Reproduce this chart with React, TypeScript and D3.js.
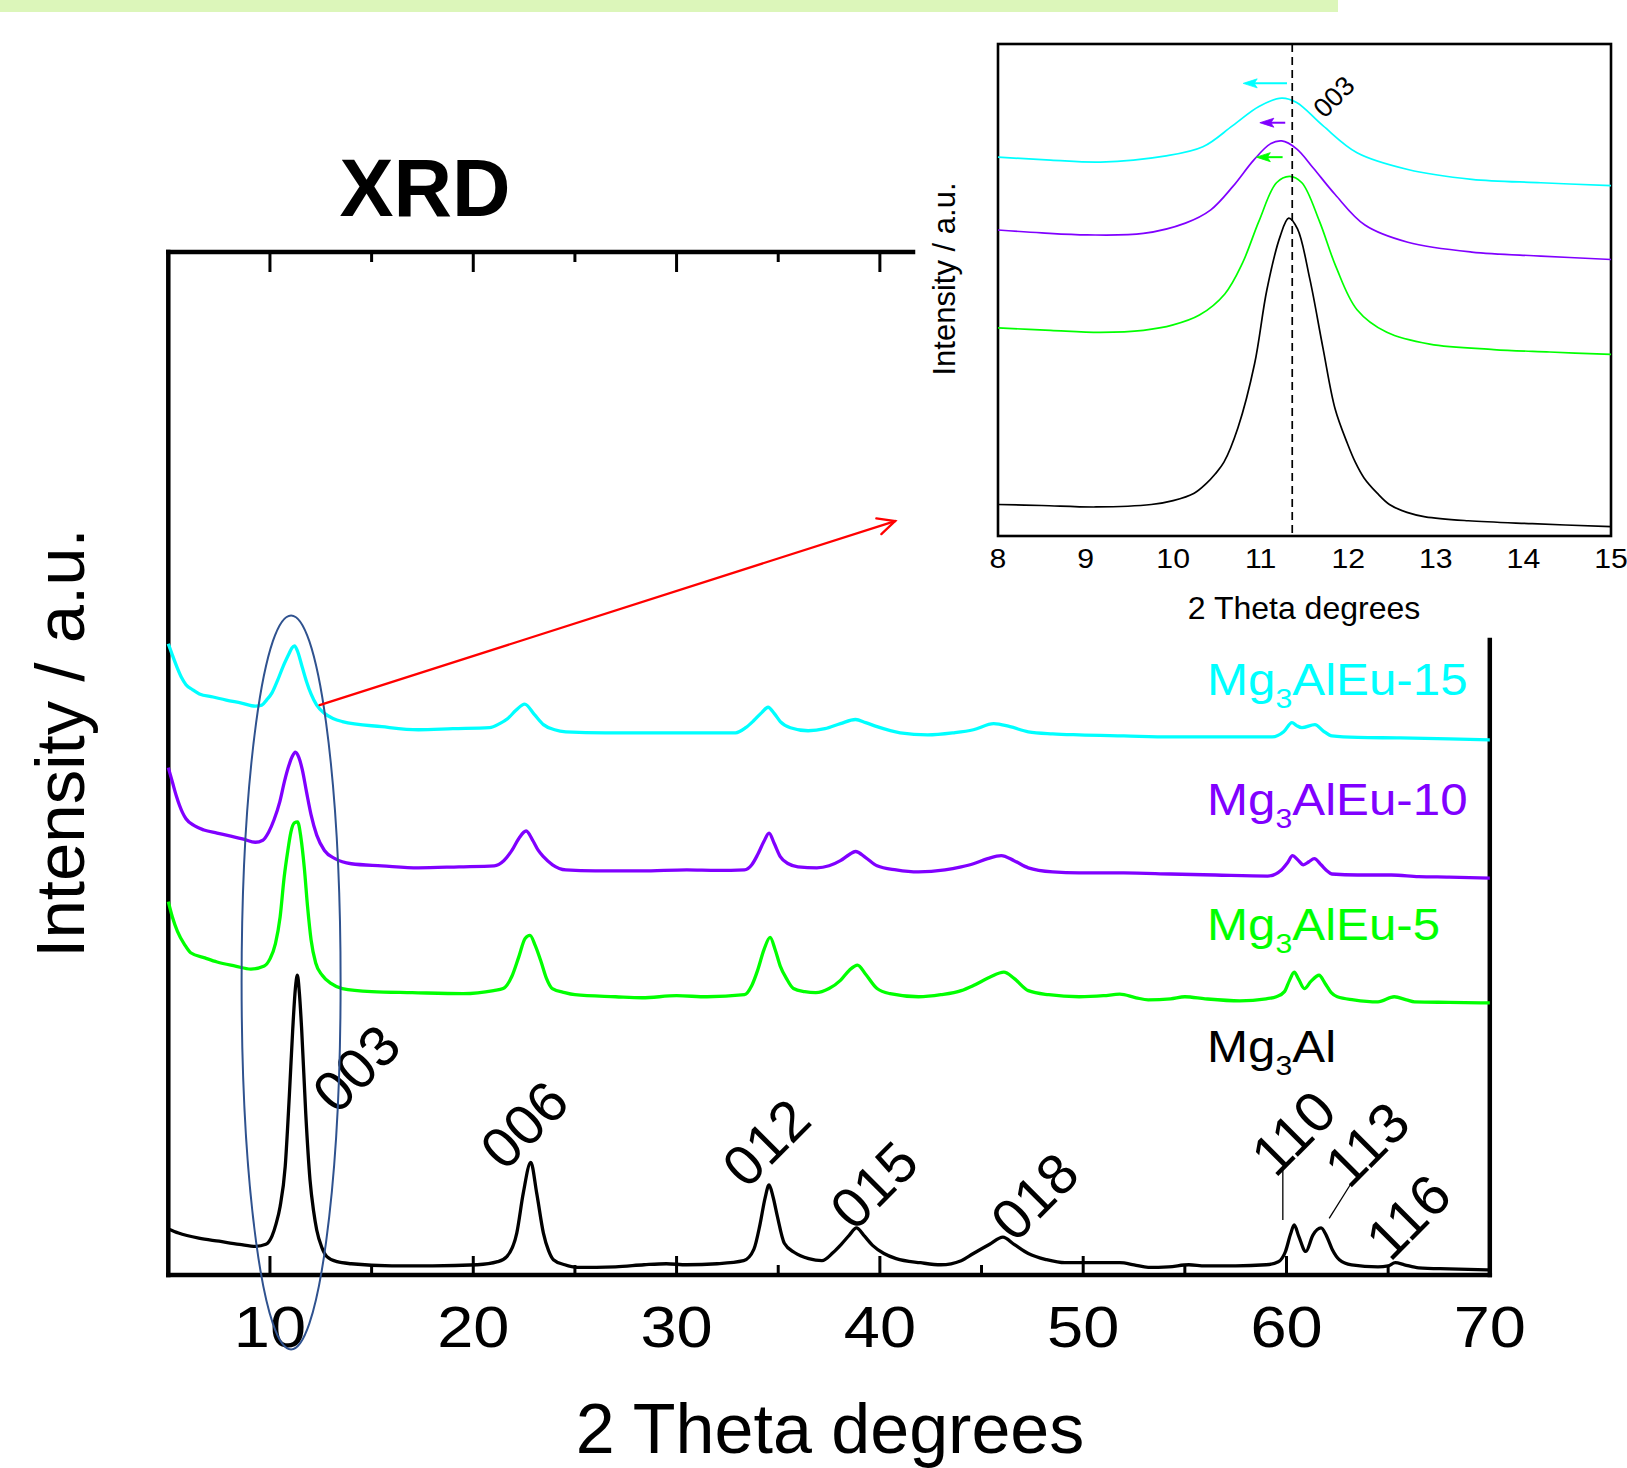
import React from "react";
import * as d3 from "d3";

// main pattern, [2theta, intensity offset]
const mg3al: [number, number][] = [
  [5.0, 4.5], [5.5, 4.1], [6.5, 3.6], [7.5, 3.3], [8.5, 3.0], [9.3, 2.8], [9.8, 3.0], [10.1, 3.8],
  [10.3, 5.0], [10.5, 6.7], [10.75, 10.6], [10.95, 17.4], [11.12, 24], [11.25, 28], [11.35, 29.3],
  [11.45, 27.5], [11.56, 24], [11.76, 15.8], [11.97, 9.3], [12.15, 6.2], [12.3, 4.4], [12.55, 2.7],
  [12.8, 1.8], [13.3, 1.3], [14, 1.1], [16, 0.9], [18, 0.9], [20.2, 1.0], [21.2, 1.3], [21.65, 1.8],
  [22.14, 4.1], [22.46, 8.0], [22.83, 11.0], [23.12, 8.0], [23.45, 4.1], [23.7, 2.4], [23.94, 1.5],
  [24.5, 1.0], [25.1, 0.75], [27, 0.8], [28.4, 1.0], [29.5, 1.1], [30.5, 1.0], [32, 1.1], [33.3, 1.4],
  [33.8, 2.5], [34.1, 4.9], [34.35, 7.5], [34.55, 8.8], [34.75, 7.6], [34.95, 5.8], [35.3, 3.1],
  [35.8, 2.2], [36.5, 1.6], [37.15, 1.4], [37.7, 2.2], [38.1, 3.0], [38.5, 3.9], [38.85, 4.6],
  [39.2, 3.9], [39.64, 2.9], [40.2, 2.1], [40.8, 1.6], [42, 1.2], [43.0, 1.0], [44.0, 1.4], [44.6, 2.1],
  [45.4, 3.0], [46.05, 3.7], [46.6, 3.0], [47.3, 2.1], [48.2, 1.5], [49.1, 1.2], [50.5, 1.2], [51.8, 1.2],
  [52.5, 1.0], [53.2, 0.75], [54.2, 0.8], [55.2, 1.0], [56.0, 0.9], [57.5, 0.9], [59.0, 1.0], [59.6, 1.3],
  [59.95, 2.3], [60.2, 4.0], [60.38, 4.9], [60.6, 3.8], [60.95, 2.3], [61.3, 3.9], [61.7, 4.6],
  [61.95, 3.9], [62.25, 2.5], [62.6, 1.5], [63.2, 1.0], [64.5, 0.8], [65.0, 0.9], [65.35, 1.2],
  [65.8, 1.0], [66.5, 0.7], [68, 0.6], [70, 0.5],
];

const eu5: [number, number][] = [
  [5.0, 36.5], [5.2, 35], [5.45, 33.6], [5.8, 32.3], [6.1, 31.5], [6.8, 31], [7.4, 30.6], [8.3, 30.2],
  [9.06, 29.9], [9.72, 30.2], [10.0, 30.9], [10.27, 32.4], [10.5, 35.0], [10.7, 38.9], [10.88, 41.5],
  [11.03, 43.3], [11.2, 44.2], [11.36, 44.3], [11.52, 42.8], [11.69, 39.8], [11.85, 36.0], [12.02, 32.8],
  [12.25, 30.5], [12.57, 29.3], [13.0, 28.5], [13.56, 28.0], [15, 27.7], [17, 27.6], [19.5, 27.5],
  [21.0, 27.8], [21.47, 28.0], [21.9, 29.2], [22.24, 31.1], [22.55, 32.9], [22.79, 33.2], [23.05, 32.2],
  [23.34, 30.6], [23.6, 29.0], [23.89, 28.0], [24.5, 27.6], [25, 27.4], [27, 27.2], [28.3, 27.1],
  [30, 27.3], [31.5, 27.2], [33.34, 27.4], [33.7, 28.3], [33.99, 29.8], [34.3, 31.8], [34.6, 33.0],
  [34.85, 31.8], [35.1, 30.2], [35.4, 29.0], [35.75, 28.0], [36.3, 27.7], [36.85, 27.6], [37.5, 28.0],
  [38.06, 28.8], [38.5, 29.8], [38.9, 30.3], [39.3, 29.4], [39.86, 28.0], [40.5, 27.5], [41.9, 27.2],
  [43, 27.4], [44, 27.8], [44.6, 28.3], [45.4, 29.1], [46.1, 29.6], [46.6, 29.0], [47.3, 27.8],
  [48.3, 27.4], [49.8, 27.2], [51, 27.3], [51.8, 27.45], [52.6, 27.1], [53.2, 26.9], [54.3, 27.0],
  [55.0, 27.2], [56, 27.0], [57.7, 26.8], [59.0, 27.0], [59.5, 27.2], [59.9, 27.7], [60.15, 28.8],
  [60.38, 29.6], [60.6, 28.9], [60.88, 28.0], [61.2, 28.7], [61.6, 29.3], [61.9, 28.5], [62.2, 27.6],
  [62.5, 27.2], [63.3, 26.9], [64.5, 26.7], [65.3, 27.2], [65.9, 26.9], [66.3, 26.7], [68, 26.65],
  [70, 26.6],
];

const eu10: [number, number][] = [
  [5.0, 49.6], [5.2, 48.2], [5.4, 46.8], [5.7, 45.2], [5.87, 44.6], [6.3, 43.9], [6.75, 43.5],
  [7.4, 43.2], [8.07, 42.9], [8.7, 42.6], [9.28, 42.3], [9.65, 42.5], [9.94, 43.3], [10.2, 44.5],
  [10.49, 46.3], [10.72, 48.3], [10.93, 49.8], [11.1, 50.7], [11.25, 51.1], [11.42, 50.6], [11.59, 49.4],
  [11.8, 47.2], [12.02, 45.0], [12.3, 43.0], [12.68, 41.5], [13.2, 40.7], [14.0, 40.2], [15.5, 40.0],
  [17.3, 39.8], [19.3, 39.9], [21.03, 40.0], [21.5, 40.5], [21.9, 41.5], [22.25, 42.7], [22.6, 43.4],
  [22.95, 42.4], [23.2, 41.5], [23.45, 40.9], [23.9, 40.1], [24.55, 39.6], [26, 39.5], [28.28, 39.5],
  [30.5, 39.6], [32.0, 39.55], [33.34, 39.6], [33.7, 40.1], [33.99, 41.1], [34.3, 42.4], [34.55, 43.2],
  [34.8, 42.2], [35.1, 40.9], [35.5, 40.2], [35.97, 39.9], [36.9, 39.8], [37.5, 40.0], [38.06, 40.5],
  [38.5, 41.1], [38.8, 41.4], [39.3, 40.8], [39.86, 40.0], [40.8, 39.6], [41.9, 39.4], [43.2, 39.6],
  [44.0, 39.9], [44.6, 40.2], [45.3, 40.7], [45.97, 41.0], [46.6, 40.5], [47.3, 39.8], [48.5, 39.4],
  [49.8, 39.3], [52, 39.3], [54.3, 39.2], [56.5, 39.1], [59.07, 39.0], [59.75, 39.6], [60.05, 40.3],
  [60.3, 41.0], [60.55, 40.6], [60.83, 40.1], [61.1, 40.4], [61.37, 40.7], [61.7, 40.1], [62.0, 39.5],
  [62.23, 39.2], [63.5, 39.1], [65.16, 39.1], [66.5, 38.95], [68, 38.9], [70, 38.8],
];

const eu15: [number, number][] = [
  [5.0, 61.7], [5.2, 60.6], [5.43, 59.4], [5.65, 58.4], [5.87, 57.7], [6.2, 57.2], [6.53, 56.8],
  [7.2, 56.5], [7.85, 56.2], [8.6, 55.9], [9.28, 55.6], [9.6, 55.7], [9.83, 56.2], [10.1, 56.9],
  [10.37, 58.1], [10.65, 59.5], [10.93, 60.7], [11.08, 61.3], [11.21, 61.5], [11.35, 61.0], [11.59, 59.4],
  [11.8, 58.0], [12.02, 56.8], [12.3, 55.7], [12.68, 54.9], [13.1, 54.4], [13.56, 54.1], [15.5, 53.6],
  [17.3, 53.3], [19, 53.4], [20.8, 53.5], [21.3, 53.9], [21.7, 54.4], [22.1, 55.2], [22.53, 55.8],
  [23.0, 54.8], [23.45, 53.8], [24.0, 53.3], [24.55, 53.1], [26.5, 53.0], [28.28, 53.0], [30.5, 53.0],
  [32.9, 53.0], [33.4, 53.5], [33.8, 54.2], [34.2, 55.0], [34.5, 55.5], [34.8, 54.9], [35.1, 54.1],
  [35.6, 53.5], [36.47, 53.2], [37.3, 53.4], [38.06, 53.9], [38.8, 54.3], [39.3, 54.0], [39.86, 53.6],
  [41, 53.0], [42.35, 52.8], [43.6, 53.0], [44.6, 53.3], [45.6, 53.9], [46.4, 53.6], [47.3, 53.1],
  [48.5, 52.9], [49.8, 52.8], [52, 52.7], [54.3, 52.6], [57, 52.6], [59.3, 52.6], [59.86, 53.1],
  [60.27, 54.0], [60.5, 53.7], [60.76, 53.5], [61.4, 53.8], [61.8, 53.2], [62.23, 52.7], [63.5, 52.55],
  [65.6, 52.5], [68, 52.4], [70, 52.3],
];

// inset, 8-15 deg, own intensity offsets
const inMg3al: [number, number][] = [
  [8.0, 6.4], [8.5, 6.2], [9.12, 5.9], [9.75, 6.4], [10.0, 7.2], [10.24, 8.7], [10.38, 10.7],
  [10.48, 12.6], [10.58, 15], [10.74, 22], [10.93, 35], [11.07, 50], [11.22, 60.8], [11.32, 64.6],
  [11.42, 62.4], [11.56, 52.3], [11.71, 38.3], [11.85, 25.8], [11.99, 18.8], [12.08, 15.0],
  [12.18, 11.8], [12.33, 8.7], [12.47, 6.4], [12.67, 4.8], [12.88, 3.9], [13.37, 3.1], [14.1, 2.5],
  [15.0, 1.9],
];
const inEu5: [number, number][] = [
  [8.0, 42.3], [8.6, 41.8], [9.17, 41.4], [9.66, 41.8], [10.0, 42.9], [10.3, 44.9], [10.59, 49.2],
  [10.79, 55.4], [10.98, 64], [11.18, 71.8], [11.33, 73.1], [11.47, 71.8], [11.67, 64], [11.86, 54.7],
  [12.1, 46], [12.44, 41.4], [12.93, 39], [13.66, 37.9], [14.3, 37.4], [15.0, 36.9],
];
const inEu10: [number, number][] = [
  [8.0, 62.2], [8.5, 61.6], [9.02, 61.2], [9.66, 61.5], [10.14, 63.6], [10.43, 66.3], [10.68, 71],
  [10.92, 76.4], [11.11, 79.7], [11.24, 80.3], [11.41, 78.7], [11.6, 74.8], [11.85, 69.4], [12.19, 63.2],
  [12.68, 59.7], [13.41, 57.7], [14.2, 56.9], [15.0, 56.2],
];
const inEu15: [number, number][] = [
  [8.0, 77], [8.6, 76.4], [9.17, 76], [9.9, 77.2], [10.34, 79.1], [10.68, 83.4], [10.98, 87.3],
  [11.24, 89], [11.41, 88.1], [11.71, 83.4], [12.1, 77.9], [12.68, 74.5], [13.41, 72.5], [14.2, 71.8],
  [15.0, 71.2],
];

const majorTicks = [10, 20, 30, 40, 50, 60, 70];
const minorTicks = [15, 25, 35, 45, 55, 65];
const insetTicks = [8, 9, 10, 11, 12, 13, 14, 15];

const sampleNames = ["Mg3AlEu-15", "Mg3AlEu-10", "Mg3AlEu-5", "Mg3Al"];
const sampleColors = ["#00ffff", "#8000ff", "#00ff00", "#000000"];
const labelLevels = [56.7, 44.97, 32.75, 20.8];

const peakNames = ["003", "006", "012", "015", "018", "110", "113", "116"];
const peakLabelX = [14.24, 22.5, 34.4, 39.7, 47.6, 60.33, 63.95, 65.98];
const peakLabelY = [20.2, 14.7, 12.95, 8.8, 7.7, 13.9, 12.8, 5.7];

// inset shift arrows: [from, to, level]
const shiftArrows: [number, number, number][] = [
  [11.3, 10.8, 92],
  [11.28, 10.99, 84],
  [11.25, 10.95, 77],
];
const peak003 = 11.36;

const FONT = "'Liberation Sans', Arial, sans-serif";

const App = () => {
  const x = d3.scaleLinear().domain([5, 70]).range([168.3, 1489.8]);
  const y = d3.scaleLinear().domain([0, 100]).range([1275, 252]);
  const ix = d3.scaleLinear().domain([8, 15]).range([998, 1611]);
  const iy = d3.scaleLinear().domain([0, 100]).range([536, 44]);

  const line = d3
    .line<[number, number]>()
    .x((d) => x(d[0]))
    .y((d) => y(d[1]))
    .curve(d3.curveMonotoneX);
  const inLine = d3
    .line<[number, number]>()
    .x((d) => ix(d[0]))
    .y((d) => iy(d[1]))
    .curve(d3.curveCatmullRom.alpha(0.5));

  const mainSeries = [eu15, eu10, eu5, mg3al];
  const insetSeries = [inEu15, inEu10, inEu5, inMg3al];

  const topEnd = 913;
  const rightStart = 640;

  // red pointer arrow from the ellipse to the inset
  const ax0 = x(12.44), ay0 = y(55.7), ax1 = x(40.75), ay1 = y(73.7);
  const ang = Math.atan2(ay1 - ay0, ax1 - ax0);
  const head = (a: number) =>
    `${ax1 + 19 * Math.cos(ang + Math.PI - a)},${ay1 + 19 * Math.sin(ang + Math.PI - a)}`;

  return (
    <div style={{ position: "absolute", left: 0, top: 0 }}>
      <svg width={1627} height={1468} style={{ display: "block", background: "#fff" }} fontFamily={FONT}>
        <rect x={0} y={0} width={1338} height={12} fill="#dcf6ba" />

        <text x={425} y={216} fontSize={81} fontWeight="bold" textAnchor="middle">
          XRD
        </text>

        {/* main frame */}
        <g stroke="#000" strokeWidth={4.5} strokeLinecap="square">
          <line x1={x(5)} x2={x(5)} y1={y(100)} y2={y(0)} />
          <line x1={x(5)} x2={x(70)} y1={y(0)} y2={y(0)} />
          <line x1={x(5)} x2={topEnd} y1={y(100)} y2={y(100)} />
          <line x1={x(70)} x2={x(70)} y1={rightStart} y2={y(0)} />
        </g>
        <g stroke="#000" strokeWidth={3}>
          {majorTicks.map((t) => (
            <line key={"b" + t} x1={x(t)} x2={x(t)} y1={y(0)} y2={y(0) - 19} />
          ))}
          {minorTicks.map((t) => (
            <line key={"bm" + t} x1={x(t)} x2={x(t)} y1={y(0)} y2={y(0) - 10} />
          ))}
          {majorTicks.filter((t) => x(t) < topEnd).map((t) => (
            <line key={"t" + t} x1={x(t)} x2={x(t)} y1={y(100)} y2={y(100) + 20} />
          ))}
          {minorTicks.filter((t) => x(t) < topEnd).map((t) => (
            <line key={"tm" + t} x1={x(t)} x2={x(t)} y1={y(100)} y2={y(100) + 10} />
          ))}
        </g>
        {majorTicks.map((t) => (
          <text key={"l" + t} transform={`translate(${x(t)},1347) scale(1.12,1)`} fontSize={58} textAnchor="middle">
            {t}
          </text>
        ))}
        <text x={830} y={1453} fontSize={70} textAnchor="middle">
          2 Theta degrees
        </text>
        <text transform="translate(84,743) rotate(-90)" fontSize={69} textAnchor="middle">
          Intensity / a.u.
        </text>

        {/* patterns */}
        {mainSeries.map((s, i) => (
          <path key={i} d={line(s) ?? ""} fill="none" stroke={sampleColors[i]} strokeWidth={3.3} strokeLinejoin="round" />
        ))}

        {sampleNames.map((n, i) => (
          <text
            key={n}
            transform={`translate(${x(56.09)},${y(labelLevels[i])}) scale(1.12,1)`}
            fontSize={44}
            fill={sampleColors[i]}
          >
            {n.slice(0, 2)}
            <tspan dy={13} fontSize={27}>3</tspan>
            <tspan dy={-13}>{n.slice(3)}</tspan>
          </text>
        ))}

        {peakNames.map((p, i) => (
          <text
            key={p}
            transform={`translate(${x(peakLabelX[i])},${y(peakLabelY[i])}) rotate(-45)`}
            fontSize={57}
            textAnchor="middle"
            dominantBaseline="central"
          >
            {p}
          </text>
        ))}
        <g stroke="#000" strokeWidth={1.3}>
          <line x1={x(59.82)} x2={x(59.82)} y1={y(10.26)} y2={y(5.38)} />
          <line x1={x(63.13)} x2={x(62.1)} y1={y(8.8)} y2={y(5.54)} />
        </g>

        <ellipse cx={x(11.04)} cy={y(28.6)} rx={49.5} ry={367} fill="none" stroke="#2f528f" strokeWidth={2} />

        <g stroke="#ff0000" strokeWidth={2.3} fill="none" strokeLinecap="round">
          <line x1={ax0} y1={ay0} x2={ax1} y2={ay1} />
          <polyline points={`${head(0.45)} ${ax1},${ay1} ${head(-0.45)}`} />
        </g>

        {/* inset */}
        <rect x={ix(8)} y={iy(100)} width={ix(15) - ix(8)} height={iy(0) - iy(100)} fill="#fff" stroke="#000" strokeWidth={2.6} />
        {insetSeries.map((s, i) => (
          <path key={i} d={inLine(s) ?? ""} fill="none" stroke={sampleColors[i]} strokeWidth={1.7} />
        ))}
        <line x1={ix(peak003)} x2={ix(peak003)} y1={iy(100)} y2={iy(0)} stroke="#000" strokeWidth={1.7} strokeDasharray="8,5" />
        <text transform={`translate(1334,97) rotate(-45)`} fontSize={27} textAnchor="middle" dominantBaseline="central">
          003
        </text>
        {shiftArrows.map((a, i) => {
          const x0 = ix(a[0]), x1 = ix(a[1]), yy = iy(a[2]);
          return (
            <g key={i} fill={sampleColors[i]} stroke={sampleColors[i]}>
              <line x1={x0} x2={x1 + 10} y1={yy} y2={yy} strokeWidth={2} />
              <polygon points={`${x1},${yy} ${x1 + 14},${yy - 4.5} ${x1 + 11},${yy} ${x1 + 14},${yy + 4.5}`} strokeWidth={0.8} />
            </g>
          );
        })}
        {insetTicks.map((t) => (
          <text key={"i" + t} transform={`translate(${ix(t)},568) scale(1.12,1)`} fontSize={27} textAnchor="middle">
            {t}
          </text>
        ))}
        <text x={1304} y={619} fontSize={32} textAnchor="middle">
          2 Theta degrees
        </text>
        <text transform="translate(955,279) rotate(-90)" fontSize={31} textAnchor="middle">
          Intensity / a.u.
        </text>
      </svg>
    </div>
  );
};

export default App;
